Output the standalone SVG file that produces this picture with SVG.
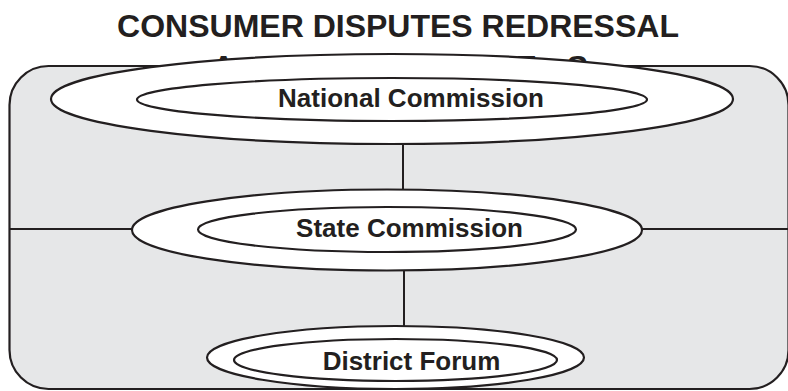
<svg xmlns="http://www.w3.org/2000/svg" width="788" height="391" viewBox="0 0 788 391">
  <style>
    .title { font-family: "Liberation Sans", Arial, sans-serif; font-weight: bold; font-size: 32px; fill: #231f20; }
    .label { font-family: "Liberation Sans", Arial, sans-serif; font-weight: bold; font-size: 26px; fill: #231f20; text-anchor: middle; }
    .ring { fill: #ffffff; stroke: #231f20; stroke-width: 2.2; }
    .link { stroke: #231f20; stroke-width: 2; fill: none; }
  </style>

  <rect width="788" height="391" fill="#ffffff"/>

  <!-- heading; the second line sits behind the top node -->
  <g id="heading">
    <text class="title" x="398" y="37" text-anchor="middle">CONSUMER DISPUTES REDRESSAL</text>
    <text class="title" x="212" y="78" textLength="376" lengthAdjust="spacing">AGENCIES</text>
  </g>

  <!-- panel -->
  <rect id="panel" x="9.5" y="66" width="779" height="323" rx="39" ry="39" fill="#e6e7e8" stroke="#231f20" stroke-width="2.2"/>

  <g id="connectors">
    <line class="link" x1="403" y1="143" x2="403" y2="191"/>
    <line class="link" x1="404" y1="269" x2="404" y2="327"/>
    <line class="link" x1="9.5" y1="229" x2="133" y2="229"/>
    <line class="link" x1="641" y1="229" x2="788" y2="229"/>
  </g>

  <g id="national">
    <ellipse class="ring" cx="392" cy="99" rx="341" ry="45"/>
    <ellipse class="ring" cx="392" cy="99.5" rx="255" ry="21.5"/>
    <text class="label" x="411" y="107">National Commission</text>
  </g>

  <g id="state">
    <ellipse class="ring" cx="387" cy="230" rx="255" ry="40.5"/>
    <ellipse class="ring" cx="387" cy="229.5" rx="189" ry="22.5"/>
    <text class="label" x="409.5" y="237">State Commission</text>
  </g>

  <g id="district">
    <ellipse class="ring" cx="395.5" cy="357.5" rx="188.5" ry="31.5"/>
    <ellipse class="ring" cx="395.5" cy="360" rx="161.5" ry="21"/>
    <text class="label" x="411.5" y="370">District Forum</text>
  </g>
</svg>
